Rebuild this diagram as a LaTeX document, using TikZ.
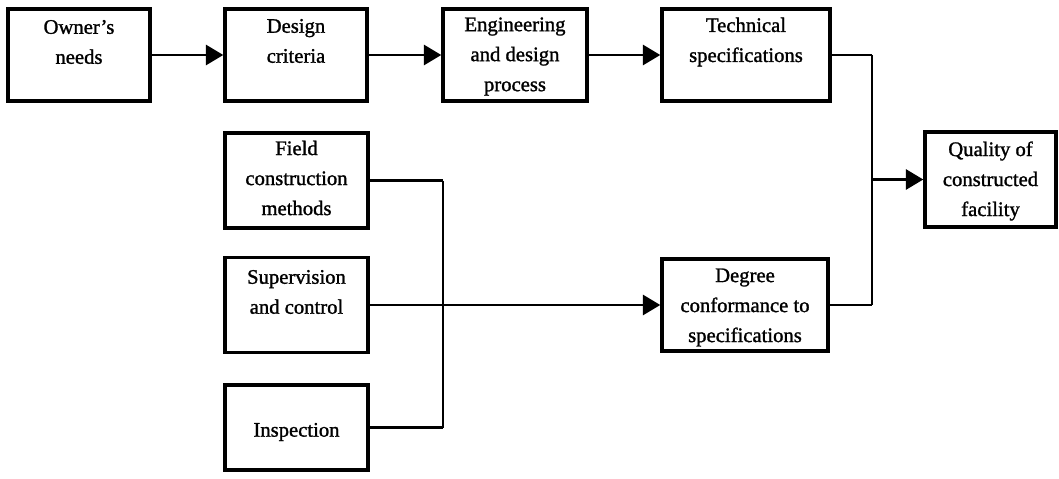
\documentclass[tikz,border=0pt]{standalone}
\usepackage{fontspec}
\setmainfont{Liberation Serif}
\newfontfamily\boxfont[FakeBold=1.3,Ligatures=TeX]{Liberation Serif}
\usetikzlibrary{arrows.meta}
\begin{document}
\begin{tikzpicture}[x=0.75pt,y=-0.75pt,
  box/.style={draw, line width=2.6pt, rectangle, inner sep=0pt},
  lbl/.style={align=center, font=\boxfont\fontsize{15.5}{22.5}\selectfont, inner sep=0pt},
  conn/.style={line width=2.1pt},
  joinline/.style={line width=1.6pt},
  arr/.style={conn, -{Triangle[length=13pt,width=15pt]}}]
\useasboundingbox (0,0) rectangle (1059,478);
% boxes
\node[box, minimum width=106.5pt, minimum height=69pt] (b1) at (79,55) {};
\node[box, minimum width=106.5pt, minimum height=69pt] (b2) at (296,55) {};
\node[box, minimum width=108pt, minimum height=69pt] (b3) at (515,55) {};
\node[box, minimum width=126pt, minimum height=69pt] (b4) at (746,55) {};
\node[box, minimum width=107.25pt, minimum height=71.25pt] (f) at (296.5,180.5) {};
\node[box, minimum width=107.25pt, minimum height=71.25pt] (s) at (296.5,305) {};
\node[box, minimum width=107.25pt, minimum height=63.75pt] (i) at (296.5,427.5) {};
\node[box, minimum width=124.5pt, minimum height=69pt] (d) at (745,305) {};
\node[box, minimum width=98.25pt, minimum height=71.25pt] (q) at (990.5,179.5) {};
% labels
\node[lbl] (t1) at (79,42) {Owner’s\\needs};
\node[lbl] (t2) at (296,41) {Design\\criteria};
\node[lbl] (t3) at (515,56.5) {Engineering\\and design\\process};
\node[lbl] (t4) at (746,42) {Technical\\specifications};
\node[lbl] (tf) at (296.5,178) {Field\\construction\\methods};
\node[lbl] (ts) at (296.5,292) {Supervision\\and control};
\node[lbl] (ti) at (296.5,432) {Inspection};
\node[lbl] (td) at (745,307.5) {Degree\\conformance to\\specifications};
\node[lbl] (tq) at (990.5,181) {Quality of\\constructed\\facility};
% connectors
\coordinate (jl) at (443,0);
\coordinate (jr) at (872,0);
\draw[arr] (b1.east) -- (b2.west);
\draw[arr] (b2.east) -- (b3.west);
\draw[arr] (b3.east) -- (b4.west);
\draw[conn] (b4.east) -- (b4.east -| jr);
\draw[conn] (d.east) -- (d.east -| jr);
\draw[joinline] (b4.east -| jr) -- (d.east -| jr);
\draw[arr] (q.west -| jr) -- (q.west);
\draw[conn] (f.east) -- (f.east -| jl);
\draw[conn] (i.east) -- (i.east -| jl);
\draw[joinline] (f.east -| jl) -- (i.east -| jl);
\draw[arr] (s.east) -- (d.west);
\end{tikzpicture}
\end{document}
